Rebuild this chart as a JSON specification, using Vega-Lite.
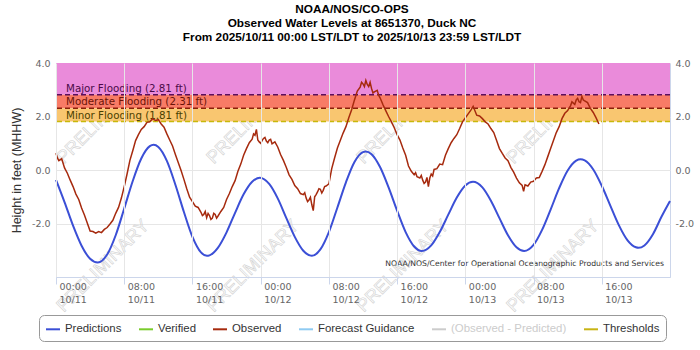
{
"$schema": "https://vega.github.io/schema/vega-lite/v6.json",
"width": 614,
"height": 214,
"autosize": "none",
"padding": {"left": 56, "top": 63, "right": 30, "bottom": 73},
"background": "#ffffff",
"title": {"text": ["NOAA/NOS/CO-OPS", "Observed Water Levels at 8651370, Duck NC", "From 2025/10/11 00:00 LST/LDT to 2025/10/13 23:59 LST/LDT"], "font": "Liberation Sans", "fontSize": 11.8, "fontWeight": "bold", "color": "#000000", "lineHeight": 14, "anchor": "middle", "frame": "bounds", "offset": 14},
"config": {
  "view": {"stroke": "#ccd6eb", "strokeWidth": 1},
  "axis": {"labelFont": "DejaVu Sans", "labelFontSize": 9.5, "labelColor": "#666666"}
},
"datasets": {
  "wm": [
    {"t": "2025-10-11T05:33Z", "v": 1.95}, {"t": "2025-10-11T23:08Z", "v": 1.95}, {"t": "2025-10-12T16:43Z", "v": 1.95}, {"t": "2025-10-13T10:18Z", "v": 1.95},
    {"t": "2025-10-11T05:33Z", "v": -3.6}, {"t": "2025-10-11T23:08Z", "v": -3.6}, {"t": "2025-10-12T16:43Z", "v": -3.6}, {"t": "2025-10-13T10:18Z", "v": -3.6}
  ],
  "bands": [
    {"lvl": "Major", "lo": 2.81, "hi": 4.0, "label": "Major Flooding (2.81 ft)"},
    {"lvl": "Moderate", "lo": 2.31, "hi": 2.81, "label": "Moderate Flooding (2.31 ft)"},
    {"lvl": "Minor", "lo": 1.81, "hi": 2.31, "label": "Minor Flooding (1.81 ft)"}
  ],
  "pred": [
    {"t": "2025-10-11T00:00Z", "v": -0.37, "s": "Predictions"},
    {"t": "2025-10-11T01:00Z", "v": -1.20, "s": "Predictions"},
    {"t": "2025-10-11T02:00Z", "v": -2.08, "s": "Predictions"},
    {"t": "2025-10-11T03:00Z", "v": -2.83, "s": "Predictions"},
    {"t": "2025-10-11T04:00Z", "v": -3.32, "s": "Predictions"},
    {"t": "2025-10-11T04:54Z", "v": -3.46, "s": "Predictions"},
    {"t": "2025-10-11T06:00Z", "v": -3.16, "s": "Predictions"},
    {"t": "2025-10-11T07:00Z", "v": -2.44, "s": "Predictions"},
    {"t": "2025-10-11T08:00Z", "v": -1.44, "s": "Predictions"},
    {"t": "2025-10-11T09:00Z", "v": -0.41, "s": "Predictions"},
    {"t": "2025-10-11T10:00Z", "v": 0.43, "s": "Predictions"},
    {"t": "2025-10-11T11:00Z", "v": 0.89, "s": "Predictions"},
    {"t": "2025-10-11T11:27Z", "v": 0.94, "s": "Predictions"},
    {"t": "2025-10-11T12:00Z", "v": 0.86, "s": "Predictions"},
    {"t": "2025-10-11T13:00Z", "v": 0.34, "s": "Predictions"},
    {"t": "2025-10-11T14:00Z", "v": -0.55, "s": "Predictions"},
    {"t": "2025-10-11T15:00Z", "v": -1.57, "s": "Predictions"},
    {"t": "2025-10-11T16:00Z", "v": -2.50, "s": "Predictions"},
    {"t": "2025-10-11T17:00Z", "v": -3.08, "s": "Predictions"},
    {"t": "2025-10-11T17:42Z", "v": -3.21, "s": "Predictions"},
    {"t": "2025-10-11T18:00Z", "v": -3.19, "s": "Predictions"},
    {"t": "2025-10-11T19:00Z", "v": -2.90, "s": "Predictions"},
    {"t": "2025-10-11T20:00Z", "v": -2.33, "s": "Predictions"},
    {"t": "2025-10-11T21:00Z", "v": -1.60, "s": "Predictions"},
    {"t": "2025-10-11T22:00Z", "v": -0.91, "s": "Predictions"},
    {"t": "2025-10-11T23:00Z", "v": -0.44, "s": "Predictions"},
    {"t": "2025-10-11T23:54Z", "v": -0.29, "s": "Predictions"},
    {"t": "2025-10-12T01:00Z", "v": -0.52, "s": "Predictions"},
    {"t": "2025-10-12T02:00Z", "v": -1.06, "s": "Predictions"},
    {"t": "2025-10-12T03:00Z", "v": -1.79, "s": "Predictions"},
    {"t": "2025-10-12T04:00Z", "v": -2.50, "s": "Predictions"},
    {"t": "2025-10-12T05:00Z", "v": -3.02, "s": "Predictions"},
    {"t": "2025-10-12T06:00Z", "v": -3.21, "s": "Predictions"},
    {"t": "2025-10-12T07:00Z", "v": -2.97, "s": "Predictions"},
    {"t": "2025-10-12T08:00Z", "v": -2.32, "s": "Predictions"},
    {"t": "2025-10-12T09:00Z", "v": -1.40, "s": "Predictions"},
    {"t": "2025-10-12T10:00Z", "v": -0.46, "s": "Predictions"},
    {"t": "2025-10-12T11:00Z", "v": 0.30, "s": "Predictions"},
    {"t": "2025-10-12T12:00Z", "v": 0.67, "s": "Predictions"},
    {"t": "2025-10-12T12:18Z", "v": 0.69, "s": "Predictions"},
    {"t": "2025-10-12T13:00Z", "v": 0.59, "s": "Predictions"},
    {"t": "2025-10-12T14:00Z", "v": 0.11, "s": "Predictions"},
    {"t": "2025-10-12T15:00Z", "v": -0.65, "s": "Predictions"},
    {"t": "2025-10-12T16:00Z", "v": -1.52, "s": "Predictions"},
    {"t": "2025-10-12T17:00Z", "v": -2.32, "s": "Predictions"},
    {"t": "2025-10-12T18:00Z", "v": -2.86, "s": "Predictions"},
    {"t": "2025-10-12T18:54Z", "v": -3.03, "s": "Predictions"},
    {"t": "2025-10-12T20:00Z", "v": -2.82, "s": "Predictions"},
    {"t": "2025-10-12T21:00Z", "v": -2.32, "s": "Predictions"},
    {"t": "2025-10-12T22:00Z", "v": -1.67, "s": "Predictions"},
    {"t": "2025-10-12T23:00Z", "v": -1.03, "s": "Predictions"},
    {"t": "2025-10-13T00:00Z", "v": -0.58, "s": "Predictions"},
    {"t": "2025-10-13T00:54Z", "v": -0.44, "s": "Predictions"},
    {"t": "2025-10-13T02:00Z", "v": -0.65, "s": "Predictions"},
    {"t": "2025-10-13T03:00Z", "v": -1.15, "s": "Predictions"},
    {"t": "2025-10-13T04:00Z", "v": -1.80, "s": "Predictions"},
    {"t": "2025-10-13T05:00Z", "v": -2.44, "s": "Predictions"},
    {"t": "2025-10-13T06:00Z", "v": -2.89, "s": "Predictions"},
    {"t": "2025-10-13T06:54Z", "v": -3.03, "s": "Predictions"},
    {"t": "2025-10-13T08:00Z", "v": -2.80, "s": "Predictions"},
    {"t": "2025-10-13T09:00Z", "v": -2.24, "s": "Predictions"},
    {"t": "2025-10-13T10:00Z", "v": -1.48, "s": "Predictions"},
    {"t": "2025-10-13T11:00Z", "v": -0.68, "s": "Predictions"},
    {"t": "2025-10-13T12:00Z", "v": -0.02, "s": "Predictions"},
    {"t": "2025-10-13T13:00Z", "v": 0.35, "s": "Predictions"},
    {"t": "2025-10-13T13:30Z", "v": 0.40, "s": "Predictions"},
    {"t": "2025-10-13T14:00Z", "v": 0.36, "s": "Predictions"},
    {"t": "2025-10-13T15:00Z", "v": 0.02, "s": "Predictions"},
    {"t": "2025-10-13T16:00Z", "v": -0.59, "s": "Predictions"},
    {"t": "2025-10-13T17:00Z", "v": -1.33, "s": "Predictions"},
    {"t": "2025-10-13T18:00Z", "v": -2.06, "s": "Predictions"},
    {"t": "2025-10-13T19:00Z", "v": -2.62, "s": "Predictions"},
    {"t": "2025-10-13T20:00Z", "v": -2.89, "s": "Predictions"},
    {"t": "2025-10-13T20:18Z", "v": -2.91, "s": "Predictions"},
    {"t": "2025-10-13T21:00Z", "v": -2.82, "s": "Predictions"},
    {"t": "2025-10-13T22:00Z", "v": -2.40, "s": "Predictions"},
    {"t": "2025-10-13T23:00Z", "v": -1.75, "s": "Predictions"},
    {"t": "2025-10-14T00:00Z", "v": -1.16, "s": "Predictions"}
  ],
  "obs": [
    {"t": "2025-10-11T00:00Z", "v": 0.63, "s": "Observed"},
    {"t": "2025-10-11T00:10Z", "v": 0.45, "s": "Observed"},
    {"t": "2025-10-11T00:20Z", "v": 0.35, "s": "Observed"},
    {"t": "2025-10-11T00:40Z", "v": 0.42, "s": "Observed"},
    {"t": "2025-10-11T01:00Z", "v": 0.08, "s": "Observed"},
    {"t": "2025-10-11T01:20Z", "v": -0.12, "s": "Observed"},
    {"t": "2025-10-11T01:40Z", "v": -0.38, "s": "Observed"},
    {"t": "2025-10-11T02:00Z", "v": -0.62, "s": "Observed"},
    {"t": "2025-10-11T02:20Z", "v": -0.90, "s": "Observed"},
    {"t": "2025-10-11T02:40Z", "v": -1.10, "s": "Observed"},
    {"t": "2025-10-11T03:00Z", "v": -1.42, "s": "Observed"},
    {"t": "2025-10-11T03:20Z", "v": -1.68, "s": "Observed"},
    {"t": "2025-10-11T03:40Z", "v": -1.98, "s": "Observed"},
    {"t": "2025-10-11T04:00Z", "v": -2.28, "s": "Observed"},
    {"t": "2025-10-11T04:20Z", "v": -2.30, "s": "Observed"},
    {"t": "2025-10-11T04:40Z", "v": -2.36, "s": "Observed"},
    {"t": "2025-10-11T05:00Z", "v": -2.30, "s": "Observed"},
    {"t": "2025-10-11T05:20Z", "v": -2.34, "s": "Observed"},
    {"t": "2025-10-11T05:40Z", "v": -2.22, "s": "Observed"},
    {"t": "2025-10-11T06:00Z", "v": -2.15, "s": "Observed"},
    {"t": "2025-10-11T06:20Z", "v": -2.02, "s": "Observed"},
    {"t": "2025-10-11T06:40Z", "v": -1.88, "s": "Observed"},
    {"t": "2025-10-11T07:00Z", "v": -1.62, "s": "Observed"},
    {"t": "2025-10-11T07:20Z", "v": -1.40, "s": "Observed"},
    {"t": "2025-10-11T07:40Z", "v": -1.05, "s": "Observed"},
    {"t": "2025-10-11T08:00Z", "v": -0.62, "s": "Observed"},
    {"t": "2025-10-11T08:20Z", "v": -0.15, "s": "Observed"},
    {"t": "2025-10-11T08:40Z", "v": 0.36, "s": "Observed"},
    {"t": "2025-10-11T09:00Z", "v": 0.72, "s": "Observed"},
    {"t": "2025-10-11T09:20Z", "v": 1.10, "s": "Observed"},
    {"t": "2025-10-11T09:40Z", "v": 1.32, "s": "Observed"},
    {"t": "2025-10-11T10:00Z", "v": 1.52, "s": "Observed"},
    {"t": "2025-10-11T10:20Z", "v": 1.62, "s": "Observed"},
    {"t": "2025-10-11T10:40Z", "v": 1.78, "s": "Observed"},
    {"t": "2025-10-11T11:00Z", "v": 1.80, "s": "Observed"},
    {"t": "2025-10-11T11:20Z", "v": 1.92, "s": "Observed"},
    {"t": "2025-10-11T11:40Z", "v": 1.85, "s": "Observed"},
    {"t": "2025-10-11T12:00Z", "v": 1.88, "s": "Observed"},
    {"t": "2025-10-11T12:20Z", "v": 1.72, "s": "Observed"},
    {"t": "2025-10-11T12:40Z", "v": 1.60, "s": "Observed"},
    {"t": "2025-10-11T13:00Z", "v": 1.35, "s": "Observed"},
    {"t": "2025-10-11T13:20Z", "v": 1.12, "s": "Observed"},
    {"t": "2025-10-11T13:40Z", "v": 0.90, "s": "Observed"},
    {"t": "2025-10-11T14:00Z", "v": 0.58, "s": "Observed"},
    {"t": "2025-10-11T14:20Z", "v": 0.28, "s": "Observed"},
    {"t": "2025-10-11T14:40Z", "v": -0.02, "s": "Observed"},
    {"t": "2025-10-11T15:00Z", "v": -0.35, "s": "Observed"},
    {"t": "2025-10-11T15:20Z", "v": -0.70, "s": "Observed"},
    {"t": "2025-10-11T15:40Z", "v": -1.02, "s": "Observed"},
    {"t": "2025-10-11T16:00Z", "v": -1.18, "s": "Observed"},
    {"t": "2025-10-11T16:20Z", "v": -1.35, "s": "Observed"},
    {"t": "2025-10-11T16:40Z", "v": -1.40, "s": "Observed"},
    {"t": "2025-10-11T17:00Z", "v": -1.58, "s": "Observed"},
    {"t": "2025-10-11T17:10Z", "v": -1.70, "s": "Observed"},
    {"t": "2025-10-11T17:20Z", "v": -1.66, "s": "Observed"},
    {"t": "2025-10-11T17:30Z", "v": -1.55, "s": "Observed"},
    {"t": "2025-10-11T17:40Z", "v": -1.78, "s": "Observed"},
    {"t": "2025-10-11T17:50Z", "v": -1.62, "s": "Observed"},
    {"t": "2025-10-11T18:00Z", "v": -1.70, "s": "Observed"},
    {"t": "2025-10-11T18:10Z", "v": -1.85, "s": "Observed"},
    {"t": "2025-10-11T18:20Z", "v": -1.80, "s": "Observed"},
    {"t": "2025-10-11T18:30Z", "v": -1.62, "s": "Observed"},
    {"t": "2025-10-11T18:40Z", "v": -1.66, "s": "Observed"},
    {"t": "2025-10-11T18:50Z", "v": -1.80, "s": "Observed"},
    {"t": "2025-10-11T19:00Z", "v": -1.72, "s": "Observed"},
    {"t": "2025-10-11T19:20Z", "v": -1.55, "s": "Observed"},
    {"t": "2025-10-11T19:40Z", "v": -1.40, "s": "Observed"},
    {"t": "2025-10-11T20:00Z", "v": -1.10, "s": "Observed"},
    {"t": "2025-10-11T20:20Z", "v": -0.88, "s": "Observed"},
    {"t": "2025-10-11T20:40Z", "v": -0.62, "s": "Observed"},
    {"t": "2025-10-11T21:00Z", "v": -0.40, "s": "Observed"},
    {"t": "2025-10-11T21:20Z", "v": -0.05, "s": "Observed"},
    {"t": "2025-10-11T21:40Z", "v": 0.22, "s": "Observed"},
    {"t": "2025-10-11T22:00Z", "v": 0.55, "s": "Observed"},
    {"t": "2025-10-11T22:20Z", "v": 0.80, "s": "Observed"},
    {"t": "2025-10-11T22:40Z", "v": 1.02, "s": "Observed"},
    {"t": "2025-10-11T23:00Z", "v": 1.15, "s": "Observed"},
    {"t": "2025-10-11T23:10Z", "v": 1.35, "s": "Observed"},
    {"t": "2025-10-11T23:20Z", "v": 1.30, "s": "Observed"},
    {"t": "2025-10-11T23:30Z", "v": 1.52, "s": "Observed"},
    {"t": "2025-10-11T23:40Z", "v": 1.12, "s": "Observed"},
    {"t": "2025-10-11T23:50Z", "v": 1.05, "s": "Observed"},
    {"t": "2025-10-12T00:00Z", "v": 1.00, "s": "Observed"},
    {"t": "2025-10-12T00:10Z", "v": 1.10, "s": "Observed"},
    {"t": "2025-10-12T00:20Z", "v": 1.18, "s": "Observed"},
    {"t": "2025-10-12T00:30Z", "v": 1.22, "s": "Observed"},
    {"t": "2025-10-12T00:40Z", "v": 1.08, "s": "Observed"},
    {"t": "2025-10-12T00:50Z", "v": 1.02, "s": "Observed"},
    {"t": "2025-10-12T01:00Z", "v": 1.12, "s": "Observed"},
    {"t": "2025-10-12T01:10Z", "v": 1.15, "s": "Observed"},
    {"t": "2025-10-12T01:20Z", "v": 0.98, "s": "Observed"},
    {"t": "2025-10-12T01:40Z", "v": 1.05, "s": "Observed"},
    {"t": "2025-10-12T02:00Z", "v": 0.86, "s": "Observed"},
    {"t": "2025-10-12T02:20Z", "v": 0.58, "s": "Observed"},
    {"t": "2025-10-12T02:40Z", "v": 0.36, "s": "Observed"},
    {"t": "2025-10-12T03:00Z", "v": 0.10, "s": "Observed"},
    {"t": "2025-10-12T03:20Z", "v": -0.18, "s": "Observed"},
    {"t": "2025-10-12T03:40Z", "v": -0.35, "s": "Observed"},
    {"t": "2025-10-12T04:00Z", "v": -0.58, "s": "Observed"},
    {"t": "2025-10-12T04:20Z", "v": -0.70, "s": "Observed"},
    {"t": "2025-10-12T04:40Z", "v": -0.88, "s": "Observed"},
    {"t": "2025-10-12T05:00Z", "v": -0.92, "s": "Observed"},
    {"t": "2025-10-12T05:10Z", "v": -0.85, "s": "Observed"},
    {"t": "2025-10-12T05:20Z", "v": -1.05, "s": "Observed"},
    {"t": "2025-10-12T05:30Z", "v": -1.18, "s": "Observed"},
    {"t": "2025-10-12T05:40Z", "v": -1.12, "s": "Observed"},
    {"t": "2025-10-12T05:50Z", "v": -1.02, "s": "Observed"},
    {"t": "2025-10-12T06:00Z", "v": -1.30, "s": "Observed"},
    {"t": "2025-10-12T06:10Z", "v": -1.52, "s": "Observed"},
    {"t": "2025-10-12T06:20Z", "v": -1.00, "s": "Observed"},
    {"t": "2025-10-12T06:30Z", "v": -0.92, "s": "Observed"},
    {"t": "2025-10-12T06:40Z", "v": -0.82, "s": "Observed"},
    {"t": "2025-10-12T06:50Z", "v": -0.70, "s": "Observed"},
    {"t": "2025-10-12T07:00Z", "v": -0.72, "s": "Observed"},
    {"t": "2025-10-12T07:10Z", "v": -0.86, "s": "Observed"},
    {"t": "2025-10-12T07:20Z", "v": -0.76, "s": "Observed"},
    {"t": "2025-10-12T07:30Z", "v": -0.62, "s": "Observed"},
    {"t": "2025-10-12T07:40Z", "v": -0.60, "s": "Observed"},
    {"t": "2025-10-12T08:00Z", "v": -0.52, "s": "Observed"},
    {"t": "2025-10-12T08:20Z", "v": 0.05, "s": "Observed"},
    {"t": "2025-10-12T08:40Z", "v": 0.45, "s": "Observed"},
    {"t": "2025-10-12T09:00Z", "v": 0.82, "s": "Observed"},
    {"t": "2025-10-12T09:20Z", "v": 1.10, "s": "Observed"},
    {"t": "2025-10-12T09:40Z", "v": 1.38, "s": "Observed"},
    {"t": "2025-10-12T10:00Z", "v": 1.62, "s": "Observed"},
    {"t": "2025-10-12T10:20Z", "v": 1.95, "s": "Observed"},
    {"t": "2025-10-12T10:40Z", "v": 2.25, "s": "Observed"},
    {"t": "2025-10-12T11:00Z", "v": 2.62, "s": "Observed"},
    {"t": "2025-10-12T11:20Z", "v": 2.95, "s": "Observed"},
    {"t": "2025-10-12T11:40Z", "v": 3.10, "s": "Observed"},
    {"t": "2025-10-12T11:50Z", "v": 3.28, "s": "Observed"},
    {"t": "2025-10-12T12:00Z", "v": 3.22, "s": "Observed"},
    {"t": "2025-10-12T12:10Z", "v": 3.12, "s": "Observed"},
    {"t": "2025-10-12T12:20Z", "v": 3.35, "s": "Observed"},
    {"t": "2025-10-12T12:30Z", "v": 3.20, "s": "Observed"},
    {"t": "2025-10-12T12:40Z", "v": 3.12, "s": "Observed"},
    {"t": "2025-10-12T12:50Z", "v": 3.28, "s": "Observed"},
    {"t": "2025-10-12T13:00Z", "v": 3.05, "s": "Observed"},
    {"t": "2025-10-12T13:10Z", "v": 2.88, "s": "Observed"},
    {"t": "2025-10-12T13:20Z", "v": 2.92, "s": "Observed"},
    {"t": "2025-10-12T13:40Z", "v": 2.98, "s": "Observed"},
    {"t": "2025-10-12T13:50Z", "v": 2.80, "s": "Observed"},
    {"t": "2025-10-12T14:00Z", "v": 2.70, "s": "Observed"},
    {"t": "2025-10-12T14:20Z", "v": 2.45, "s": "Observed"},
    {"t": "2025-10-12T14:40Z", "v": 2.22, "s": "Observed"},
    {"t": "2025-10-12T15:00Z", "v": 2.00, "s": "Observed"},
    {"t": "2025-10-12T15:20Z", "v": 1.80, "s": "Observed"},
    {"t": "2025-10-12T15:40Z", "v": 1.58, "s": "Observed"},
    {"t": "2025-10-12T16:00Z", "v": 1.32, "s": "Observed"},
    {"t": "2025-10-12T16:20Z", "v": 1.12, "s": "Observed"},
    {"t": "2025-10-12T16:40Z", "v": 0.82, "s": "Observed"},
    {"t": "2025-10-12T17:00Z", "v": 0.55, "s": "Observed"},
    {"t": "2025-10-12T17:20Z", "v": 0.15, "s": "Observed"},
    {"t": "2025-10-12T17:40Z", "v": -0.05, "s": "Observed"},
    {"t": "2025-10-12T18:00Z", "v": -0.18, "s": "Observed"},
    {"t": "2025-10-12T18:10Z", "v": -0.10, "s": "Observed"},
    {"t": "2025-10-12T18:20Z", "v": -0.25, "s": "Observed"},
    {"t": "2025-10-12T18:40Z", "v": -0.30, "s": "Observed"},
    {"t": "2025-10-12T18:50Z", "v": -0.20, "s": "Observed"},
    {"t": "2025-10-12T19:00Z", "v": -0.38, "s": "Observed"},
    {"t": "2025-10-12T19:10Z", "v": -0.50, "s": "Observed"},
    {"t": "2025-10-12T19:20Z", "v": -0.45, "s": "Observed"},
    {"t": "2025-10-12T19:30Z", "v": -0.28, "s": "Observed"},
    {"t": "2025-10-12T19:40Z", "v": -0.62, "s": "Observed"},
    {"t": "2025-10-12T19:50Z", "v": -0.30, "s": "Observed"},
    {"t": "2025-10-12T20:00Z", "v": -0.15, "s": "Observed"},
    {"t": "2025-10-12T20:10Z", "v": -0.22, "s": "Observed"},
    {"t": "2025-10-12T20:20Z", "v": 0.02, "s": "Observed"},
    {"t": "2025-10-12T20:40Z", "v": 0.05, "s": "Observed"},
    {"t": "2025-10-12T21:00Z", "v": 0.22, "s": "Observed"},
    {"t": "2025-10-12T21:20Z", "v": 0.20, "s": "Observed"},
    {"t": "2025-10-12T21:40Z", "v": 0.55, "s": "Observed"},
    {"t": "2025-10-12T22:00Z", "v": 0.80, "s": "Observed"},
    {"t": "2025-10-12T22:20Z", "v": 1.02, "s": "Observed"},
    {"t": "2025-10-12T22:40Z", "v": 1.18, "s": "Observed"},
    {"t": "2025-10-12T23:00Z", "v": 1.32, "s": "Observed"},
    {"t": "2025-10-12T23:20Z", "v": 1.55, "s": "Observed"},
    {"t": "2025-10-12T23:40Z", "v": 1.80, "s": "Observed"},
    {"t": "2025-10-13T00:00Z", "v": 1.95, "s": "Observed"},
    {"t": "2025-10-13T00:20Z", "v": 2.10, "s": "Observed"},
    {"t": "2025-10-13T00:40Z", "v": 2.25, "s": "Observed"},
    {"t": "2025-10-13T00:55Z", "v": 2.38, "s": "Observed"},
    {"t": "2025-10-13T01:20Z", "v": 2.05, "s": "Observed"},
    {"t": "2025-10-13T01:40Z", "v": 2.02, "s": "Observed"},
    {"t": "2025-10-13T02:00Z", "v": 1.92, "s": "Observed"},
    {"t": "2025-10-13T02:20Z", "v": 1.80, "s": "Observed"},
    {"t": "2025-10-13T02:40Z", "v": 1.72, "s": "Observed"},
    {"t": "2025-10-13T03:00Z", "v": 1.55, "s": "Observed"},
    {"t": "2025-10-13T03:20Z", "v": 1.40, "s": "Observed"},
    {"t": "2025-10-13T03:40Z", "v": 1.10, "s": "Observed"},
    {"t": "2025-10-13T04:00Z", "v": 0.80, "s": "Observed"},
    {"t": "2025-10-13T04:20Z", "v": 0.62, "s": "Observed"},
    {"t": "2025-10-13T04:40Z", "v": 0.45, "s": "Observed"},
    {"t": "2025-10-13T05:00Z", "v": 0.35, "s": "Observed"},
    {"t": "2025-10-13T05:20Z", "v": 0.10, "s": "Observed"},
    {"t": "2025-10-13T05:40Z", "v": -0.08, "s": "Observed"},
    {"t": "2025-10-13T06:00Z", "v": -0.30, "s": "Observed"},
    {"t": "2025-10-13T06:20Z", "v": -0.48, "s": "Observed"},
    {"t": "2025-10-13T06:40Z", "v": -0.58, "s": "Observed"},
    {"t": "2025-10-13T06:50Z", "v": -0.80, "s": "Observed"},
    {"t": "2025-10-13T07:00Z", "v": -0.55, "s": "Observed"},
    {"t": "2025-10-13T07:20Z", "v": -0.60, "s": "Observed"},
    {"t": "2025-10-13T07:40Z", "v": -0.45, "s": "Observed"},
    {"t": "2025-10-13T08:00Z", "v": -0.42, "s": "Observed"},
    {"t": "2025-10-13T08:20Z", "v": -0.30, "s": "Observed"},
    {"t": "2025-10-13T08:40Z", "v": -0.28, "s": "Observed"},
    {"t": "2025-10-13T09:00Z", "v": -0.05, "s": "Observed"},
    {"t": "2025-10-13T09:20Z", "v": 0.20, "s": "Observed"},
    {"t": "2025-10-13T09:40Z", "v": 0.50, "s": "Observed"},
    {"t": "2025-10-13T10:00Z", "v": 0.80, "s": "Observed"},
    {"t": "2025-10-13T10:20Z", "v": 1.10, "s": "Observed"},
    {"t": "2025-10-13T10:40Z", "v": 1.40, "s": "Observed"},
    {"t": "2025-10-13T11:00Z", "v": 1.62, "s": "Observed"},
    {"t": "2025-10-13T11:20Z", "v": 1.92, "s": "Observed"},
    {"t": "2025-10-13T11:40Z", "v": 2.12, "s": "Observed"},
    {"t": "2025-10-13T12:00Z", "v": 2.22, "s": "Observed"},
    {"t": "2025-10-13T12:10Z", "v": 2.32, "s": "Observed"},
    {"t": "2025-10-13T12:20Z", "v": 2.40, "s": "Observed"},
    {"t": "2025-10-13T12:30Z", "v": 2.55, "s": "Observed"},
    {"t": "2025-10-13T12:40Z", "v": 2.50, "s": "Observed"},
    {"t": "2025-10-13T12:50Z", "v": 2.45, "s": "Observed"},
    {"t": "2025-10-13T13:00Z", "v": 2.62, "s": "Observed"},
    {"t": "2025-10-13T13:10Z", "v": 2.68, "s": "Observed"},
    {"t": "2025-10-13T13:20Z", "v": 2.55, "s": "Observed"},
    {"t": "2025-10-13T13:30Z", "v": 2.52, "s": "Observed"},
    {"t": "2025-10-13T13:40Z", "v": 2.75, "s": "Observed"},
    {"t": "2025-10-13T13:50Z", "v": 2.62, "s": "Observed"},
    {"t": "2025-10-13T14:00Z", "v": 2.58, "s": "Observed"},
    {"t": "2025-10-13T14:20Z", "v": 2.52, "s": "Observed"},
    {"t": "2025-10-13T14:40Z", "v": 2.30, "s": "Observed"},
    {"t": "2025-10-13T15:00Z", "v": 2.15, "s": "Observed"},
    {"t": "2025-10-13T15:20Z", "v": 1.95, "s": "Observed"},
    {"t": "2025-10-13T15:40Z", "v": 1.72, "s": "Observed"}
  ]
},
"layer": [
  {
    "data": {"name": "wm"},
    "mark": {"type": "text", "text": "PRELIMINARY", "angle": 315, "font": "Liberation Sans", "fontSize": 18, "fill": "transparent", "stroke": "#d2d2d2", "strokeWidth": 0.6, "align": "center", "baseline": "middle"},
    "encoding": {
      "x": {"field": "t", "type": "temporal", "scale": {"type": "utc", "domain": [{"year": 2025, "month": 10, "date": 11, "utc": true}, {"year": 2025, "month": 10, "date": 14, "utc": true}]}},
      "y": {"field": "v", "type": "quantitative", "scale": {"domain": [-4, 4], "nice": false, "zero": false}, "axis": null}
    }
  },
  {
    "data": {"name": "bands"},
    "mark": {"type": "rect"},
    "encoding": {
      "y": {"field": "lo", "type": "quantitative", "scale": {"domain": [-4, 4], "nice": false, "zero": false},
        "axis": {"orient": "left", "values": [-2, 0, 2, 4], "title": "Height in feet (MHHW)", "titleFont": "Liberation Sans", "titleFontSize": 12.5, "titleFontWeight": "normal", "titleColor": "#333333", "titlePadding": 8, "grid": true, "gridColor": "#e6e6e6", "domain": false, "ticks": false, "labelPadding": 6, "labelExpr": "replace(format(datum.value, '.1f'), '\u2212', '-')"}},
      "y2": {"field": "hi"},
      "fill": {"field": "lvl", "type": "nominal", "scale": {"domain": ["Major", "Moderate", "Minor"], "range": ["#EA8BDA", "#F87B66", "#F9C670"]}, "legend": null}
    }
  },
  {
    "data": {"name": "bands"},
    "mark": {"type": "rule", "strokeDash": [5, 3], "strokeWidth": 1.5},
    "encoding": {
      "y": {"field": "lo", "type": "quantitative", "scale": {"domain": [-4, 4], "nice": false, "zero": false}, "axis": null},
      "stroke": {"field": "lvl", "type": "nominal", "scale": {"domain": ["Major", "Moderate", "Minor"], "range": ["#5B0F5B", "#8B1F0A", "#C8B80A"]}, "legend": null}
    }
  },
  {
    "data": {"name": "bands"},
    "transform": [{"filter": "datum.lvl === 'Major'"}],
    "mark": {"type": "text", "align": "left", "baseline": "alphabetic", "dx": 10, "dy": -3, "font": "DejaVu Sans", "fontSize": 10.3, "color": "#4B0A48"},
    "encoding": {
      "x": {"datum": {"year": 2025, "month": 10, "date": 11, "utc": true}, "type": "temporal", "scale": {"type": "utc", "domain": [{"year": 2025, "month": 10, "date": 11, "utc": true}, {"year": 2025, "month": 10, "date": 14, "utc": true}]}},
      "y": {"field": "lo", "type": "quantitative", "scale": {"domain": [-4, 4], "nice": false, "zero": false}, "axis": null},
      "text": {"field": "label"}
    }
  },
  {
    "data": {"name": "bands"},
    "transform": [{"filter": "datum.lvl === 'Moderate'"}],
    "mark": {"type": "text", "align": "left", "baseline": "alphabetic", "dx": 10, "dy": -3, "font": "DejaVu Sans", "fontSize": 10.3, "color": "#6B1308"},
    "encoding": {
      "x": {"datum": {"year": 2025, "month": 10, "date": 11, "utc": true}, "type": "temporal", "scale": {"type": "utc", "domain": [{"year": 2025, "month": 10, "date": 11, "utc": true}, {"year": 2025, "month": 10, "date": 14, "utc": true}]}},
      "y": {"field": "lo", "type": "quantitative", "scale": {"domain": [-4, 4], "nice": false, "zero": false}, "axis": null},
      "text": {"field": "label"}
    }
  },
  {
    "data": {"name": "bands"},
    "transform": [{"filter": "datum.lvl === 'Minor'"}],
    "mark": {"type": "text", "align": "left", "baseline": "alphabetic", "dx": 10, "dy": -3, "font": "DejaVu Sans", "fontSize": 10.3, "color": "#4A4000"},
    "encoding": {
      "x": {"datum": {"year": 2025, "month": 10, "date": 11, "utc": true}, "type": "temporal", "scale": {"type": "utc", "domain": [{"year": 2025, "month": 10, "date": 11, "utc": true}, {"year": 2025, "month": 10, "date": 14, "utc": true}]}},
      "y": {"field": "lo", "type": "quantitative", "scale": {"domain": [-4, 4], "nice": false, "zero": false}, "axis": null},
      "text": {"field": "label"}
    }
  },
  {
    "data": {"name": "pred"},
    "mark": {"type": "line", "strokeWidth": 2, "interpolate": "monotone"},
    "encoding": {
      "x": {"field": "t", "type": "temporal", "title": null, "scale": {"type": "utc", "domain": [{"year": 2025, "month": 10, "date": 11, "utc": true}, {"year": 2025, "month": 10, "date": 14, "utc": true}]},
        "axis": {"values": [
          {"year": 2025, "month": 10, "date": 11, "hours": 0, "utc": true},
          {"year": 2025, "month": 10, "date": 11, "hours": 8, "utc": true},
          {"year": 2025, "month": 10, "date": 11, "hours": 16, "utc": true},
          {"year": 2025, "month": 10, "date": 12, "hours": 0, "utc": true},
          {"year": 2025, "month": 10, "date": 12, "hours": 8, "utc": true},
          {"year": 2025, "month": 10, "date": 12, "hours": 16, "utc": true},
          {"year": 2025, "month": 10, "date": 13, "hours": 0, "utc": true},
          {"year": 2025, "month": 10, "date": 13, "hours": 8, "utc": true},
          {"year": 2025, "month": 10, "date": 13, "hours": 16, "utc": true}],
          "labelExpr": "[utcFormat(datum.value, '%H:%M'), utcFormat(datum.value, '%m/%d')]",
          "labelAlign": "left", "labelBaseline": "top", "labelOffset": 3, "labelPadding": -3, "labelLineHeight": 13, "labelFlush": false, "labelOverlap": false, "labelBound": false,
          "tickSize": 7, "tickColor": "#ccd6eb", "domainColor": "#ccd6eb", "grid": true, "gridColor": "#e6e6e6", "zindex": 1, "title": null}},
      "y": {"field": "v", "type": "quantitative", "scale": {"domain": [-4, 4], "nice": false, "zero": false},
        "axis": {"orient": "right", "values": [-2, 0, 2, 4], "title": null, "grid": false, "domain": false, "ticks": false, "labelPadding": 5, "labelExpr": "replace(format(datum.value, '.1f'), '\u2212', '-')"}},
      "color": {"field": "s", "type": "nominal",
        "scale": {"domain": ["Predictions", "Verified", "Observed", "Forecast Guidance", "(Observed - Predicted)", "Thresholds"], "range": ["#3B4FD6", "#7ACC2C", "#A62A0E", "#8FCBF2", "#cccccc", "#C8B414"]},
        "legend": {"orient": "none", "legendX": -17, "legendY": 252, "direction": "horizontal", "title": null, "symbolType": "stroke", "symbolStrokeWidth": 2, "symbolSize": 196, "labelFont": "Liberation Sans", "labelFontSize": 11.4, "labelColor": "#333333", "labelOffset": 4, "columnPadding": 13, "padding": 6, "strokeColor": "#999999", "cornerRadius": 5, "fillColor": "#ffffff",
          "encode": {"labels": {"update": {"fill": {"signal": "datum.label === '(Observed - Predicted)' ? '#cccccc' : '#333333'"}}}}}}
    }
  },
  {
    "data": {"name": "obs"},
    "mark": {"type": "line", "strokeWidth": 1.5, "interpolate": "linear"},
    "encoding": {
      "x": {"field": "t", "type": "temporal", "title": null, "scale": {"type": "utc", "domain": [{"year": 2025, "month": 10, "date": 11, "utc": true}, {"year": 2025, "month": 10, "date": 14, "utc": true}]}},
      "y": {"field": "v", "type": "quantitative", "scale": {"domain": [-4, 4], "nice": false, "zero": false}, "axis": null},
      "color": {"field": "s", "type": "nominal",
        "scale": {"domain": ["Predictions", "Verified", "Observed", "Forecast Guidance", "(Observed - Predicted)", "Thresholds"], "range": ["#3B4FD6", "#7ACC2C", "#A62A0E", "#8FCBF2", "#cccccc", "#C8B414"]}}
    }
  },
  {
    "data": {"values": [{}]},
    "mark": {"type": "text", "text": "NOAA/NOS/Center for Operational Oceanographic Products and Services", "align": "right", "baseline": "middle", "dx": -6, "font": "DejaVu Sans", "fontSize": 7.7, "color": "#333333"},
    "encoding": {
      "x": {"datum": {"year": 2025, "month": 10, "date": 14, "utc": true}, "type": "temporal", "scale": {"type": "utc", "domain": [{"year": 2025, "month": 10, "date": 11, "utc": true}, {"year": 2025, "month": 10, "date": 14, "utc": true}]}},
      "y": {"datum": -3.52, "type": "quantitative", "scale": {"domain": [-4, 4], "nice": false, "zero": false}, "axis": null}
    }
  }
],
"resolve": {"axis": {"y": "independent"}}
}
